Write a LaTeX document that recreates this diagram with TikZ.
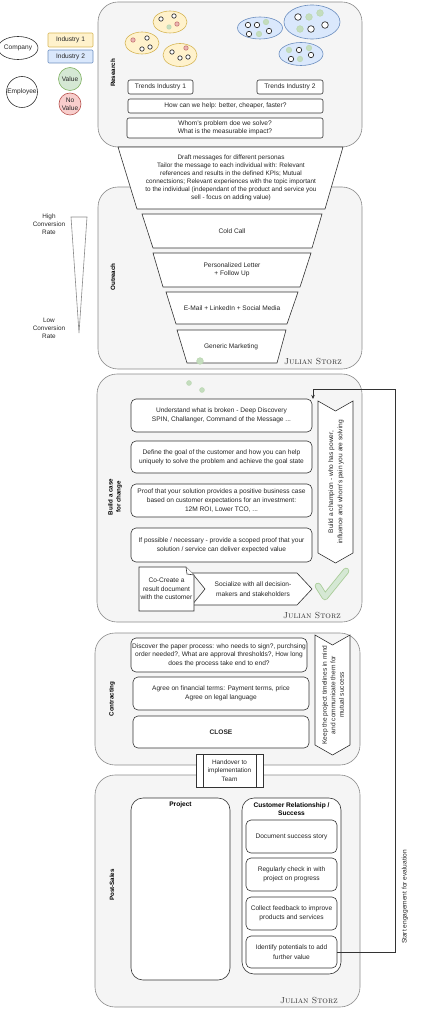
\documentclass[tikz,border=0pt]{standalone}
\usepackage{fontspec}
\setsansfont{Liberation Sans}
\usetikzlibrary{shapes.geometric,arrows.meta}
\definecolor{cfill}{HTML}{F5F5F5}
\definecolor{cline}{HTML}{8A8A8A}
\definecolor{yfill}{HTML}{FFF2CC}\definecolor{yline}{HTML}{D6B656}
\definecolor{bfill}{HTML}{DAE8FC}\definecolor{bline}{HTML}{6C8EBF}
\definecolor{gfill}{HTML}{D5E8D4}\definecolor{gline}{HTML}{82B366}
\definecolor{rfill}{HTML}{F8CECC}\definecolor{rline}{HTML}{B85450}
\definecolor{bx}{HTML}{333333}
\definecolor{chk}{HTML}{A9CC98}
\begin{document}
\begin{tikzpicture}[x=1pt,y=-1pt,
  container/.style={draw=cline, fill=cfill, rounded corners=20pt, line width=0.6pt, inner sep=0pt, outer sep=0pt},
  txt/.style={font=\sffamily\fontsize{6.6}{9.4}\selectfont, align=center, inner sep=0pt, text=black!85},
  smalltxt/.style={font=\sffamily\fontsize{6.4}{8}\selectfont, align=center, inner sep=0pt, text=black!85},
  box/.style={txt, draw=bx, fill=white, rounded corners=5pt, line width=0.6pt, inner sep=0pt, outer sep=0pt},
  sbox/.style={box, rounded corners=2pt},
  seclabel/.style={font=\sffamily\bfseries\fontsize{6.2}{8}\selectfont, align=center, inner sep=0pt, rotate=90},
  title/.style={font=\sffamily\bfseries\fontsize{6.6}{8.5}\selectfont, align=center, inner sep=0pt},
  funnel/.style={draw=bx, fill=white, line width=0.6pt},
  legend/.style={txt, draw=bx, line width=0.6pt},
  yell/.style={ellipse, draw=yline, fill=yfill, line width=0.6pt, inner sep=0pt},
  blu/.style={ellipse, draw=bline, fill=bfill, line width=0.6pt, inner sep=0pt},
  dotw/.style={draw=bx, fill=white, line width=0.7pt},
  dotg/.style={draw=gfill!70!gline, fill=gfill!80!gline, line width=0.6pt},
  dotr/.style={draw=rline!80, fill=rfill!80!rline, line width=0.6pt},
  sign/.style={font=\rmfamily\scshape\fontsize{8.8}{10}\selectfont, inner sep=0pt, text=black!80},
  conn/.style={draw=bx, line width=0.6pt}
]
\useasboundingbox (0,0) rectangle (420,1024);

% ---------------- legend ----------------
\node[legend, ellipse, minimum width=36pt, minimum height=23pt] (company) at (18,48) {Company};
\node[legend, draw=yline, fill=yfill, rounded corners=1pt, minimum width=45pt, minimum height=14pt] (ind1) at (70.5,40) {Industry 1};
\node[legend, draw=bline, fill=bfill, rounded corners=1pt, minimum width=45pt, minimum height=13pt] (ind2) at (70.5,56.5) {Industry 2};
\node[legend, circle, minimum size=31pt] (employee) at (22,92) {Employee};
\node[legend, circle, draw=gline, fill=gfill, minimum size=23pt] (value) at (70,79) {Value};
\node[legend, circle, draw=rline, fill=rfill, minimum size=22pt, font=\sffamily\fontsize{6.6}{8}\selectfont] (novalue) at (70,104) {No\\Value};

% ---------------- Research ----------------
\node[container, minimum width=264pt, minimum height=145pt] (research) at (230,74.5) {};
\node[seclabel] (researchlbl) at (113,73) {Research};

\node[yell, minimum width=34pt, minimum height=22pt] (yA) at (170,22) {};
\node[yell, minimum width=34pt, minimum height=22pt] (yB) at (142,43) {};
\node[yell, minimum width=34pt, minimum height=23pt] (yC) at (180,55) {};
\node[blu, minimum width=45pt, minimum height=22pt] (bA) at (260,28) {};
\node[blu, minimum width=56pt, minimum height=34pt] (bB) at (312,22) {};
\node[blu, minimum width=44pt, minimum height=23pt] (bC) at (301,54) {};

\foreach \x/\y/\s in {161/19/dotw, 174/16/dotw, 169/27/dotg, 177/24/dotr,
                      133/40/dotr, 147/38/dotw, 142/49/dotw, 150/47/dotw,
                      172/52/dotw, 186/48/dotr, 180/58/dotw, 188/57/dotw}
  \draw[\s] (\x,\y) circle[radius=2.2];
\foreach \x/\y/\s in {248/25/dotw, 257/25/dotw, 266/22/dotg, 249/34/dotw, 259/34/dotg, 269/31/dotw,
                      289/50/dotg, 299/50/dotw, 309/48/dotg, 291/59/dotw, 300/59/dotg, 311/55/dotw}
  \draw[\s] (\x,\y) circle[radius=2.7];
\foreach \x/\y/\s in {298/17/dotw, 309/17/dotg, 320/13/dotg, 300/29/dotg, 311/29/dotw, 325/25/dotw}
  \draw[\s] (\x,\y) circle[radius=3.3];

\node[sbox, minimum width=65pt, minimum height=14pt] (trends1) at (160.5,87) {Trends Industry 1};
\node[sbox, minimum width=66pt, minimum height=14pt] (trends2) at (290,87) {Trends Industry 2};
\node[sbox, minimum width=195pt, minimum height=14pt] (help) at (225.5,106) {How can we help: better, cheaper, faster?};
\node[sbox, minimum width=196pt, minimum height=20pt, font=\sffamily\fontsize{6.6}{8}\selectfont] (whom) at (225,128) {Whom's problem doe we solve?\\What is the measurable impact?};

% ---------------- Outreach ----------------
\node[container, minimum width=264pt, minimum height=182pt] (outreach) at (230,278) {};
\node[seclabel] (outreachlbl) at (113,277) {Outreach};

\draw[funnel] (118,147) -- (343,147) -- (325,209) -- (137,209) -- cycle;
\node[smalltxt] (msg) at (231,177.5) {Draft messages for different personas\\
Tailor the message to each individual with: Relevant\\
references and results in the defined KPIs; Mutual\\
connectsions; Relevant experiences with the topic important\\
to the individual (independant of the product and service you\\
sell - focus on adding value)};

\draw[funnel] (142,214) -- (322,214) -- (312,248) -- (153,248) -- cycle;
\node[txt] (coldcall) at (232,231) {Cold Call};
\draw[funnel] (153,253) -- (311,253) -- (300,287) -- (163,287) -- cycle;
\node[txt, font=\sffamily\fontsize{6.6}{8.2}\selectfont] (letter) at (232,270) {Personalized Letter\\+ Follow Up};
\draw[funnel] (166,292) -- (298,292) -- (287,324) -- (176,324) -- cycle;
\node[txt] (email) at (232,308) {E-Mail + LinkedIn + Social Media};
\draw[funnel] (177,330) -- (286,330) -- (277,363) -- (187,363) -- cycle;
\node[txt] (generic) at (231,346.5) {Generic Marketing};
\draw[dotg] (200,361) circle[radius=3.3];
\node[sign] (sign1) at (313,361) {Julian Storz};

\draw[draw=cline, fill=white, line width=0.6pt] (71,217) -- (87,217) -- (79,333) -- cycle;
\node[smalltxt] (high) at (49,224) {High\\Conversion\\Rate};
\node[smalltxt] (low) at (49,328) {Low\\Conversion\\Rate};

% ---------------- Build a case ----------------
\node[container, minimum width=265pt, minimum height=248pt] (build) at (229.5,498) {};
\node[seclabel] (buildlbl) at (115,497) {Build a case\\for change};
\draw[dotg] (189,383) circle[radius=2.4];
\draw[dotg] (202,390) circle[radius=2.4];

\node[box, minimum width=181pt, minimum height=33pt] (understand) at (221.5,415.5) {Understand what is broken - Deep Discovery\\SPIN, Challanger, Command of the Message ...};
\node[box, minimum width=181pt, minimum height=32pt] (define) at (221.5,457) {Define the goal of the customer and how you can help\\uniquely to solve the problem and achieve the goal state};
\node[box, minimum width=181pt, minimum height=33pt, font=\sffamily\fontsize{6.6}{8.6}\selectfont] (proof) at (221.5,500.5) {Proof that your solution provides a positive business case\\based on customer expectations for an investment:\\12M ROI, Lower TCO, ...};
\node[box, minimum width=181pt, minimum height=34pt] (ifpossible) at (221.5,545) {If possible / necessary - provide a scoped proof that your\\solution / service can deliver expected value};

\draw[funnel] (318,401) -- (335.5,411) -- (353,401) -- (353,553) -- (335.5,563) -- (318,553) -- cycle;
\node[txt, rotate=90] (champion) at (336,482) {Build a champion - who has power,\\influence and whom's pain you are solving};

\draw[funnel] (192,573) -- (297,573) -- (312,589) -- (297,605) -- (192,605) -- (205,589) -- cycle;
\node[txt] (socialize) at (253,589) {Socialize with all decision-\\makers and stakeholders};
\draw[funnel] (139,567) -- (186,567) -- (194,575) -- (194,611) -- (139,611) -- cycle;
\draw[funnel] (186,567) -- (187,574) -- (194,575);
\node[txt, font=\sffamily\fontsize{6.6}{8.6}\selectfont] (cocreate) at (166.5,589) {Co-Create a\\result document\\with the customer};

\draw[chk, line width=6.5pt, line cap=round, line join=round] (318,586) -- (325,597) -- (346,571);
\draw[gfill, line width=4.8pt, line cap=round, line join=round] (318,586) -- (325,597) -- (346,571);
\node[sign] (sign2) at (312,615) {Julian Storz};

% ---------------- Contracting ----------------
\node[container, minimum width=265pt, minimum height=132pt] (contracting) at (227.5,699) {};
\node[seclabel] (contractlbl) at (112,699) {Contracting};
\node[box, minimum width=176pt, minimum height=34pt, font=\sffamily\fontsize{6.6}{8.6}\selectfont] (discover) at (219,655) {Discover the paper process: who needs to sign?, purchsing\\order needed?, What are approval thresholds?, How long\\does the process take end to end?};
\node[box, minimum width=176pt, minimum height=33pt] (agree) at (221,693.5) {Agree on financial terms: Payment terms, price\\Agree on legal language};
\node[box, minimum width=176pt, minimum height=32pt, font=\sffamily\bfseries\fontsize{6.6}{9}\selectfont] (close) at (221,732) {CLOSE};
\draw[funnel] (315,635) -- (332.5,645) -- (350,635) -- (350,745) -- (332.5,755) -- (315,745) -- cycle;
\node[txt, rotate=90, font=\sffamily\fontsize{6.6}{8.6}\selectfont] (keep) at (333,695) {Keep the project timelines in mind\\and communicate them for\\mutual success};

% ---------------- Post-Sales ----------------
\node[container, minimum width=265pt, minimum height=232pt] (postsales) at (227.5,891) {};
\node[seclabel] (postlbl) at (112,885) {Post-Sales};

\node[txt, draw=bx, fill=white, line width=0.6pt, minimum width=67pt, minimum height=33pt, font=\sffamily\fontsize{6.4}{8.4}\selectfont] (handover) at (229.5,770.5) {Handover to\\implementation\\Team};
\draw[conn] (203,754) -- (203,787);
\draw[conn] (256,754) -- (256,787);

\node[box, rounded corners=12pt, minimum width=99pt, minimum height=182pt] (project) at (180.5,889) {};
\node[title] (projtitle) at (180.5,805) {Project};
\node[box, rounded corners=12pt, minimum width=99pt, minimum height=176pt] (custrel) at (291.5,886) {};
\node[title] (custtitle) at (291.5,809) {Customer Relationship /\\Success};
\node[box, minimum width=91pt, minimum height=33pt] (document) at (291.5,836.5) {Document success story};
\node[box, minimum width=91pt, minimum height=33pt] (regularly) at (291.5,874.5) {Regularly check in with\\project on progress};
\node[box, minimum width=91pt, minimum height=33pt] (collect) at (291.5,913.5) {Collect feedback to improve\\products and services};
\node[box, minimum width=91pt, minimum height=32pt] (identify) at (291.5,952) {Identify potentials to add\\further value};
\node[sign] (sign3) at (309,1000) {Julian Storz};

% ---------------- loop connector ----------------
\coordinate (loopR) at (395,389);
\coordinate (loopL) at (313,389);
\draw[conn, -{Stealth[length=4pt,width=3.5pt]}] (identify.east) -- (identify.east -| loopR) -- (loopR) -- (loopL) -- (loopL |- understand.north);
\node[txt, rotate=90] (startlbl) at (405,897) {Start engagement for evaluation};

\end{tikzpicture}
\end{document}
